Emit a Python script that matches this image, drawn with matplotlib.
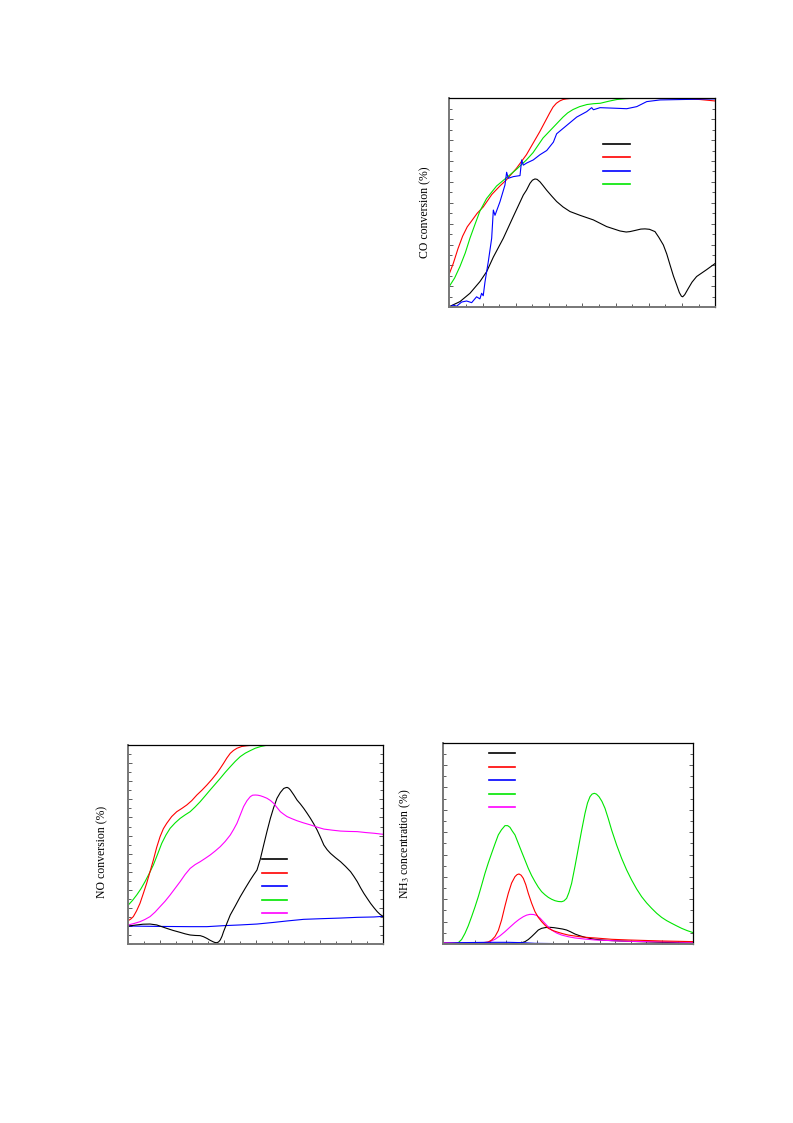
import matplotlib

matplotlib.use("Agg")
import matplotlib.pyplot as plt
from matplotlib.lines import Line2D
from matplotlib.ticker import MultipleLocator

plt.rcParams["font.family"] = ["Liberation Serif", "DejaVu Serif"]
plt.rcParams["mathtext.fontset"] = "stix"

# ---- CO conversion (%) vs temperature ----
co_red_t = [100, 106, 113, 120, 127, 134, 142, 151, 164, 176, 186, 201, 216, 226, 236, 246, 251, 256, 261, 266,
            271, 276, 285, 302, 377, 452, 477, 500]
co_red_v = [16, 21, 28, 34, 38.5, 41.5, 45, 48, 54, 58, 61, 66.5, 73, 78.5, 84, 90, 93, 95.8, 97.6, 98.7,
            99.4, 99.7, 100, 100, 100, 99.8, 99.4, 98.7]

co_green_t = [100, 108, 116, 124, 131, 139, 146, 156, 171, 186, 201, 216, 226, 241, 256, 271, 278, 286, 296, 307,
              317, 327, 340, 352, 365, 377, 500]
co_green_v = [10, 14, 19.5, 26, 33, 40, 46, 52, 58, 62, 66, 70.5, 74, 81, 86, 91, 93, 94.6, 96, 97,
              97.4, 97.6, 98.6, 99.4, 99.8, 100, 100]

co_blue_t = [100, 106, 111, 118.5, 126, 133.6, 141, 146, 148.6, 151, 153.6, 158.7, 163.7, 166.2, 168.7,
             176.2, 183.7, 186.2, 188.7, 196.2, 206.3, 208.8, 211.3, 216.3, 226.3, 236.4, 246.5, 256.5,
             261.4, 276.5, 291.6, 306.6, 314.1, 316.7, 326.7, 351.8, 366.8, 381.9, 396.9, 417, 500]
co_blue_v = [0, 1, 0.5, 2.5, 3, 2.2, 5, 4, 6.7, 5.5, 12, 22, 33, 46.5, 44,
             50.5, 58.5, 64.6, 61.7, 62.5, 63, 70.5, 68, 69, 70.5, 73, 75, 79,
             83, 87, 91, 93.6, 95.5, 94.5, 95.5, 95.2, 95, 96, 98.4, 99.2, 99.7]

co_black_t = [100, 116, 131.1, 146.1, 156.1, 166.2, 181.2, 196.2, 211.3, 216, 221.3, 225, 228.8, 232, 236.4,
              241, 246.4, 254, 261.4, 271, 281.5, 296.5, 316.6, 336.6, 356.7, 366, 371.7, 380, 388, 394.3,
              401, 409.3, 415, 421.9, 427, 431.9, 437, 441.9, 446, 449, 451, 454, 459.4, 465, 471.9, 487, 500]
co_black_v = [0.3, 2.7, 6.7, 12.3, 17, 24, 33, 43.4, 53.7, 56, 59.3, 60.8, 61.4, 61.2, 60,
              58.2, 56, 53.2, 50.6, 48, 45.8, 44, 41.8, 38.6, 36.5, 36, 36.2, 36.8, 37.4, 37.5,
              37.3, 36.2, 33.5, 29.8, 25.5, 20.3, 15, 10.7, 7, 5.3, 5, 6, 9, 12, 14.7, 18, 21]

# ---- NO conversion (%) vs temperature ----
no_red_t = [100, 104, 107.9, 113, 118.3, 123.5, 128.8, 134, 139.3, 144.5, 149.8, 155, 160.3, 168, 176, 184,
            191.7, 199.5, 207.5, 215.3, 223.2, 231, 238.9, 244, 249.4, 254.5, 259.9, 265, 270.4, 278, 286.1,
            295, 312.3, 500]
no_red_v = [3.1, 4, 5.3, 8.5, 12.6, 18, 23.7, 30, 36.5, 43.5, 49.4, 53.8, 56.8, 60.5, 63.2, 65,
            66.9, 69.3, 72.4, 75, 77.9, 81, 84.4, 87, 89.9, 92.8, 95.4, 97, 98.2, 99.2, 99.6,
            99.9, 100, 100]

no_green_t = [100, 106.5, 113.1, 119.7, 126.2, 132.7, 139.3, 146, 152.4, 159, 165.5, 173.4, 181.3, 189, 197,
              204.8, 212.7, 220.5, 228.4, 236.3, 244.2, 252, 259.9, 267.8, 275.6, 283.5, 291.3, 299, 307.1,
              315, 322.8, 500]
no_green_v = [11.7, 14.2, 17.2, 20.6, 24.6, 29, 33.8, 39.8, 45.7, 50.3, 54, 57, 59.5, 61.4, 63.2,
              65.8, 68.7, 71.9, 75.2, 78.4, 81.6, 84.9, 88, 91, 93.6, 95.5, 96.9, 98.2, 99.1,
              99.7, 100, 100]

no_magenta_t = [100, 109, 118.3, 126, 134.1, 142, 149.8, 157.7, 165.5, 173.4, 181.3, 189, 197, 204.8, 212.7,
                220.5, 228.4, 236.3, 244.2, 252, 259.9, 265, 270.4, 275.6, 280.8, 286, 291.3, 295, 299.2,
                303, 307.1, 312, 317.5, 322.8, 328, 333.2, 338.5, 343.7, 349, 356.8, 364.7, 375, 385.7,
                396, 406.7, 420, 432.9, 446, 459.1, 472, 485.3, 500]
no_magenta_v = [0.7, 1.5, 2.5, 3.7, 5.3, 7.8, 10.8, 13.8, 17.2, 20.9, 24.6, 28.5, 31.9, 34, 35.6,
                37.4, 39.3, 41.5, 43.9, 46.8, 50.3, 53.3, 56.8, 61.4, 66, 69.2, 71.5, 72.3, 72.4,
                72.3, 72, 71.4, 70.6, 69.4, 67.8, 65.5, 63.2, 61.8, 60.5, 59.3, 58.2, 57, 55.9,
                54.7, 53.6, 53, 52.5, 52.3, 52.2, 51.7, 51.3, 50.7]

no_blue_t = [100, 144.6, 197, 223.2, 249.4, 275.6, 301.8, 328, 349, 375.2, 406.7, 432.9, 459.1, 485.3, 500]
no_blue_v = [0.1, -0.1, -0.25, -0.25, 0.3, 0.7, 1.2, 2.1, 2.9, 3.8, 4.2, 4.5, 4.9, 5.1, 5.45]

no_black_t = [100, 113.1, 123, 134.1, 144.6, 152, 160.3, 170, 181.3, 189, 197, 205, 212.7, 218, 223.2,
              228.5, 233.7, 236, 238.9, 241.5, 244.2, 247, 249.4, 254.5, 259.9, 267.8, 275.6, 283.5, 291.3,
              296.5, 301.8, 307, 312.3, 317.5, 322.8, 328, 333.2, 338.5, 343.7, 346.5, 349, 351.5, 354.2,
              359.5, 364.7, 370, 375.2, 380.5, 385.7, 391, 396.1, 401.5, 406.7, 411.9, 417.1, 425, 432.9,
              440.7, 448.6, 453.8, 459.1, 464.3, 469.5, 474.8, 480, 485.3, 490.5, 495, 500]
no_black_v = [0.1, 0.7, 1.1, 1.2, 0.7, -0.2, -1.2, -2.3, -3.4, -4.2, -4.85, -5.1, -5.2, -5.8, -6.7,
              -7.8, -8.7, -9, -9.1, -8.7, -7.6, -5.5, -3, 1.5, 6.2, 11.2, 16.3, 21, 25.5,
              28.3, 31, 37, 44.8, 52.3, 59.5, 65.5, 70.6, 73.8, 76, 76.4, 76.6, 76.2, 75.2,
              72.5, 69.6, 67.4, 65, 62.3, 59.5, 56.4, 53.1, 49, 44.8, 42.2, 40.2, 37.8, 35.6,
              33, 30.1, 27.5, 24.6, 21.2, 18.1, 15.3, 12.6, 10.2, 8, 6.5, 5.3]

# ---- NH3 concentration (%) vs temperature ----
nh3_green_t = [100, 112, 124, 129.3, 134.7, 140, 145.3, 150.7, 156, 161.3, 166.7, 172, 177.3, 182.7, 188,
               193, 198.7, 203, 206.7, 210, 214.7, 220, 225.3, 230.7, 236, 241.3, 246.7, 252, 257.3,
               262.7, 268, 273.3, 278.7, 284, 289.3, 293, 297.3, 301, 305.3, 310.7, 316, 321.3, 326.7,
               330.7, 334.7, 338, 341.6, 345, 349.1, 353.8, 358.7, 364, 369.3, 377.3, 385.3, 393.3,
               401.3, 409.3, 417.3, 425.3, 433.3, 441.3, 449.3, 457.3, 465.3, 473.3, 481.3, 490, 500]
nh3_green_v = [0, 0, 0.0012, 0.004, 0.0095, 0.0163, 0.0244, 0.0331, 0.0423, 0.0525, 0.0632, 0.0725, 0.081,
               0.0895, 0.0975, 0.102, 0.1058, 0.1058, 0.1043, 0.1013, 0.0975, 0.09, 0.0825, 0.075, 0.0676,
               0.0612, 0.0557, 0.0508, 0.0468, 0.044, 0.0417, 0.04, 0.0387, 0.038, 0.0378, 0.0385, 0.0408,
               0.046, 0.0542, 0.0695, 0.0855, 0.1015, 0.1168, 0.126, 0.1317, 0.134, 0.1347, 0.134, 0.1317,
               0.1275, 0.1213, 0.112, 0.1019, 0.0885, 0.0766, 0.0662, 0.0572, 0.0492, 0.0423, 0.0367,
               0.0319, 0.0275, 0.0238, 0.0209, 0.0185, 0.0162, 0.014, 0.012, 0.0101]

nh3_red_t = [100, 156, 172, 177.3, 182.7, 188, 193.3, 198.7, 204, 209.3, 214.7, 218, 221.1, 224.5, 228, 232,
             236, 241.3, 246.7, 252, 257.3, 262.7, 268, 276, 284, 292, 300, 310.7, 321.3, 332, 342.7, 356,
             369.3, 382.7, 396, 420, 449.3, 475, 500]
nh3_red_v = [0.0006, 0.0006, 0.0018, 0.0035, 0.0066, 0.012, 0.0215, 0.034, 0.0453, 0.0545, 0.0602, 0.062,
             0.0626, 0.0615, 0.0587, 0.053, 0.0453, 0.0365, 0.0289, 0.0238, 0.02, 0.0168, 0.014, 0.0119,
             0.0104, 0.0091, 0.008, 0.0071, 0.0063, 0.0058, 0.0054, 0.0048, 0.0042, 0.0039, 0.0036, 0.0032,
             0.0027, 0.0024, 0.0021]

nh3_magenta_t = [100, 156, 172, 182.7, 190.7, 198.7, 206.7, 214.7, 221.3, 228, 233.3, 238.7, 244, 249.3,
                 254.7, 260, 266.7, 273.3, 281.3, 289.3, 300, 310.7, 326.7, 342.7, 369.3, 396, 450, 500]
nh3_magenta_v = [0.0012, 0.0006, 0.0015, 0.0042, 0.0073, 0.011, 0.0151, 0.0191, 0.022, 0.0244, 0.0258,
                 0.0265, 0.0264, 0.0256, 0.0232, 0.02, 0.016, 0.0125, 0.0098, 0.008, 0.0065, 0.0054,
                 0.0044, 0.0036, 0.003, 0.0024, 0.0019, 0.0015]

nh3_black_t = [100, 220, 225.3, 230.7, 236, 241.3, 246.7, 252, 257.3, 262.7, 266.7, 270.7, 277, 284, 290.7,
               297.3, 304, 310.7, 318.7, 326.7, 334.7, 342.7, 356, 369.3, 396, 449.3, 500]
nh3_black_v = [0.0003, 0.0006, 0.0011, 0.0021, 0.004, 0.0066, 0.0095, 0.0125, 0.014, 0.0146, 0.0149,
               0.0149, 0.0146, 0.014, 0.0134, 0.0125, 0.0108, 0.0089, 0.0073, 0.006, 0.005, 0.0042,
               0.0035, 0.003, 0.0024, 0.0015, 0.0009]

nh3_blue_t = [100, 129.3, 172, 204, 225.3, 246.7, 289.3, 342.7, 500]
nh3_blue_v = [0.0006, 0.0012, 0.0015, 0.0015, 0.0012, 0.0006, 0.0003, 0, 0]

BLACK, RED, BLUE, GREEN, MAGENTA = "#000000", "#ff0000", "#0000ff", "#00e600", "#ff00ff"
LW = 0.8


def style_axes(ax, ymin, ymax, ymajor, yminor):
    ax.set_xlim(100, 500)
    ax.set_ylim(ymin, ymax)
    ax.xaxis.set_major_locator(MultipleLocator(50))
    ax.xaxis.set_minor_locator(MultipleLocator(25))
    ax.yaxis.set_major_locator(MultipleLocator(ymajor))
    ax.yaxis.set_minor_locator(MultipleLocator(yminor))
    ax.tick_params(which="both", direction="in", right=True, top=False,
                   labelleft=False, labelbottom=False, width=0.6, color="#444444")
    ax.tick_params(which="major", length=3)
    ax.tick_params(which="minor", length=2)
    for side in ("left", "bottom"):
        ax.spines[side].set_color("#777777")
        ax.spines[side].set_linewidth(1.4)
    for side in ("top", "right"):
        ax.spines[side].set_color("black")
        ax.spines[side].set_linewidth(0.9)


def blank_legend(ax, colors, anchor, length):
    # the legend in the source has line samples only, no label text
    handles = [Line2D([], [], color=c, lw=1.2) for c in colors]
    ax.legend(handles, [" "] * len(colors), loc="center left", bbox_to_anchor=anchor,
              frameon=False, fontsize=6, handlelength=length, handletextpad=0,
              borderpad=0, borderaxespad=0, labelspacing=0.66)


fig = plt.figure(figsize=(7.93, 11.23), dpi=100)

ax_co = fig.add_axes([0.5666, 0.7264, 0.3354, 0.1861])
ax_co.plot(co_black_t, co_black_v, color=BLACK, lw=LW)
ax_co.plot(co_red_t, co_red_v, color=RED, lw=LW)
ax_co.plot(co_green_t, co_green_v, color=GREEN, lw=LW)
ax_co.plot(co_blue_t, co_blue_v, color=BLUE, lw=LW)
style_axes(ax_co, 0, 100, 10, 5)
ax_co.set_ylabel("CO conversion (%)", fontsize=8.5)
ax_co.yaxis.set_label_coords(-0.068, 0.456)
blank_legend(ax_co, [BLACK, RED, BLUE, GREEN], (0.579, 0.682), 3.2)

ax_no = fig.add_axes([0.1618, 0.1591, 0.3216, 0.1775])
ax_no.plot(no_blue_t, no_blue_v, color=BLUE, lw=LW)
ax_no.plot(no_black_t, no_black_v, color=BLACK, lw=LW)
ax_no.plot(no_magenta_t, no_magenta_v, color=MAGENTA, lw=LW)
ax_no.plot(no_green_t, no_green_v, color=GREEN, lw=LW)
ax_no.plot(no_red_t, no_red_v, color=RED, lw=LW)
style_axes(ax_no, -10, 100, 10, 5)
ax_no.set_ylabel("NO conversion (%)", fontsize=8.5)
ax_no.yaxis.set_label_coords(-0.080, 0.463)
blank_legend(ax_no, [BLACK, RED, BLUE, GREEN, MAGENTA], (0.5255, 0.2875), 3.0)

ax_nh = fig.add_axes([0.559, 0.1594, 0.3153, 0.1793])
ax_nh.plot(nh3_green_t, nh3_green_v, color=GREEN, lw=LW)
ax_nh.plot(nh3_black_t, nh3_black_v, color=BLACK, lw=LW)
ax_nh.plot(nh3_magenta_t, nh3_magenta_v, color=MAGENTA, lw=LW)
ax_nh.plot(nh3_red_t, nh3_red_v, color=RED, lw=LW)
ax_nh.plot(nh3_blue_t, nh3_blue_v, color=BLUE, lw=LW)
style_axes(ax_nh, 0, 0.18, 0.02, 0.01)
ax_nh.set_ylabel(r"NH$_3$ concentration (%)", fontsize=8.5)
ax_nh.yaxis.set_label_coords(-0.121, 0.50)
blank_legend(ax_nh, [BLACK, RED, BLUE, GREEN, MAGENTA], (0.183, 0.809), 3.1)

fig.savefig("out.png", dpi=100)
plt.close(fig)
